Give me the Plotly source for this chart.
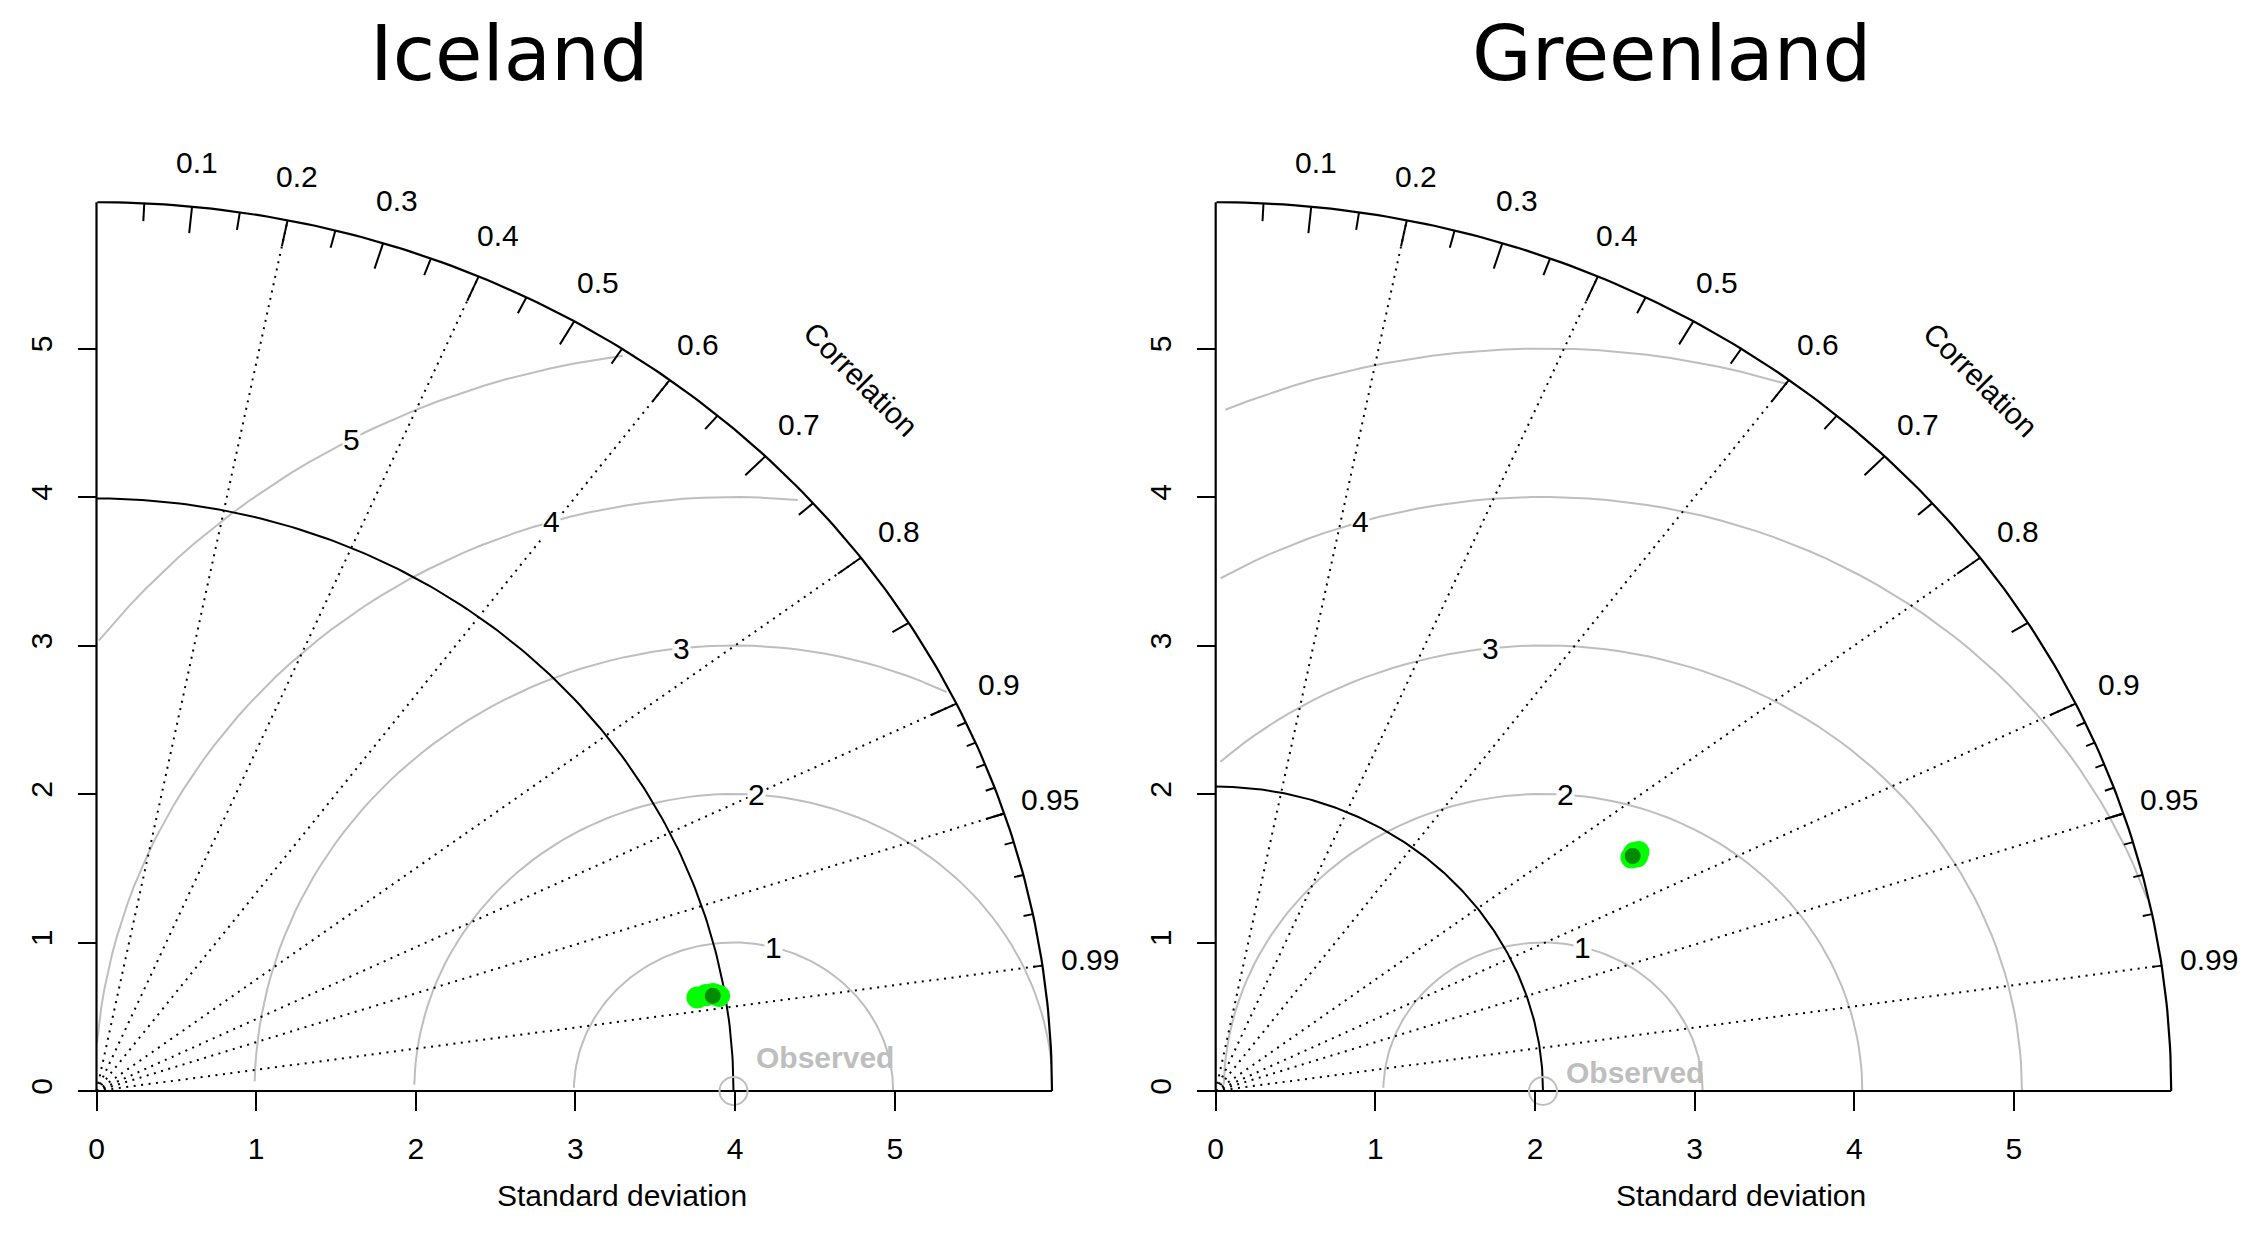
import numpy as np
import plotly.graph_objects as go

# ---------------- data ----------------
panel_titles = ["Iceland", "Greenland"]
ref_sd = [3.99, 2.05]                      # observed standard deviation
max_sd = 5.985                             # radius of the outer arc
sd_ticks = [0, 1, 2, 3, 4, 5]
rms_levels = [1, 2, 3, 4, 5]               # centred RMS difference arcs
corr_labels = [0.1, 0.2, 0.3, 0.4, 0.5, 0.6, 0.7, 0.8, 0.9, 0.95, 0.99]
corr_lines = [0.2, 0.4, 0.6, 0.8, 0.9, 0.95, 0.99]
corr_big = [0.1, 0.2, 0.3, 0.4, 0.5, 0.6, 0.7, 0.8, 0.9]
corr_med = [0.05, 0.15, 0.25, 0.35, 0.45, 0.55, 0.65, 0.75, 0.85, 0.95]
corr_small = [0.91, 0.92, 0.93, 0.94, 0.95, 0.96, 0.97, 0.98, 0.99]

# ensemble members (light green) and ensemble mean (dark green)
iceland_members_sd = [3.816, 3.872, 3.917, 3.952]
iceland_members_corr = [0.9863, 0.9860, 0.9860, 0.9868]
iceland_mean_sd = [3.913]
iceland_mean_corr = [0.9865]
greenland_members_sd = [3.042, 3.099, 3.075, 3.072]
greenland_members_corr = [0.8561, 0.8546, 0.8581, 0.8530]
greenland_mean_sd = [3.054]
greenland_mean_corr = [0.8553]

members_sd = [iceland_members_sd, greenland_members_sd]
members_corr = [iceland_members_corr, greenland_members_corr]
mean_sd = [iceland_mean_sd, greenland_mean_sd]
mean_corr = [iceland_mean_corr, greenland_mean_corr]

# ---------------- layout constants ----------------
W, H = 2256, 1233
OFF = 8  # page body margin added by the browser
X_UNIT, Y_UNIT = 159.65, 148.5
ORIGINS = [(96.5 - OFF, 1091.0 - OFF), (1215.7 - OFF, 1091.0 - OFF)]
DOMAINS = [(0.0, 0.5), (0.5, 1.0)]
TITLE_X = [509.5 - OFF, 1671.0 - OFF]
XLABEL_Y = 1195 - OFF
FONT = "Liberation Sans, Arial, Helvetica, sans-serif"
SMALL = 30
BLACK = "#000000"
GRAY = "#BEBEBE"

fig = go.Figure()
annotations = []


def polar_xy(sd, corr):
    th = np.arccos(np.asarray(corr, dtype=float))
    sd = np.asarray(sd, dtype=float)
    return sd * np.cos(th), sd * np.sin(th)


def seg_list(segs):
    xs, ys = [], []
    for sx, sy in segs:
        xs += list(sx) + [None]
        ys += list(sy) + [None]
    return xs, ys


for p in range(2):
    xa = "x" if p == 0 else "x2"
    ya = "y" if p == 0 else "y2"
    sdr = ref_sd[p]
    m = max_sd

    # --- centred RMS arcs (plotrix algorithm) ---
    segs = []
    th = np.arange(0, np.pi, 0.03)
    labelpos = np.linspace(45, 70, len(rms_levels)).astype(int)
    for gi, g in enumerate(rms_levels):
        xc = np.cos(th) * g + sdr
        yc = np.sin(th) * g
        neg = np.where(xc < 0)[0]
        end = neg.min() if len(neg) else len(xc)
        over = np.where(xc * xc + yc * yc > m * m)[0]
        start = over.max() + 1 if len(over) else 0
        if start < end:
            segs.append((xc[start:end], yc[start:end]))
        li = labelpos[gi] - 1
        if xc[li] > 0:
            annotations.append(dict(x=xc[li], y=yc[li], xref=xa, yref=ya, text=str(g),
                                    showarrow=False, bgcolor="white", borderpad=0,
                                    xanchor="center", yanchor="middle",
                                    font=dict(family=FONT, size=SMALL, color=BLACK)))
    gx, gy = seg_list(segs)
    fig.add_trace(go.Scatter(x=gx, y=gy, xaxis=xa, yaxis=ya, mode="lines",
                             line=dict(color=GRAY, width=2), hoverinfo="skip", showlegend=False))

    # --- dotted correlation lines ---
    segs = []
    for c in corr_lines:
        segs.append(([0, m * c], [0, m * np.sqrt(1 - c * c)]))
    dx, dy = seg_list(segs)
    fig.add_trace(go.Scatter(x=dx, y=dy, xaxis=xa, yaxis=ya, mode="lines",
                             line=dict(color=BLACK, width=2, dash="2px,5.5px"),
                             hoverinfo="skip", showlegend=False))

    # --- frame: axes lines, outer arc, reference arc ---
    ta = np.arange(0, np.pi / 2, 0.01)
    segs = [([0, m], [0, 0]), ([0, 0], [0, m]),
            (np.cos(ta) * m, np.sin(ta) * m)]
    fx, fy = seg_list(segs)
    fig.add_trace(go.Scatter(x=fx, y=fy, xaxis=xa, yaxis=ya, mode="lines",
                             line=dict(color=BLACK, width=2.2), hoverinfo="skip", showlegend=False))
    fig.add_trace(go.Scatter(x=np.cos(ta) * sdr, y=np.sin(ta) * sdr, xaxis=xa, yaxis=ya,
                             mode="lines", line=dict(color=BLACK, width=2),
                             hoverinfo="skip", showlegend=False))

    # --- correlation ticks ---
    segs = []
    for vals, frac in ((corr_big, 0.97), (corr_med, 0.98), (corr_small, 0.99)):
        for c in vals:
            a = np.arccos(c)
            segs.append(([np.cos(a) * m, np.cos(a) * frac * m],
                         [np.sin(a) * m, np.sin(a) * frac * m]))
    kx, ky = seg_list(segs)
    fig.add_trace(go.Scatter(x=kx, y=ky, xaxis=xa, yaxis=ya, mode="lines",
                             line=dict(color=BLACK, width=2), hoverinfo="skip", showlegend=False))

    # --- correlation labels ---
    for c in corr_labels:
        a = np.arccos(c)
        annotations.append(dict(x=np.cos(a) * 1.05 * m, y=np.sin(a) * 1.05 * m,
                                xref=xa, yref=ya, text=f"{c:g}", showarrow=False,
                                xanchor="center", yanchor="middle",
                                font=dict(family=FONT, size=SMALL, color=BLACK)))
    annotations.append(dict(x=0.8 * m, y=0.8 * m, xref=xa, yref=ya, text="Correlation",
                            textangle=45, showarrow=False, xanchor="center", yanchor="middle",
                            font=dict(family=FONT, size=SMALL, color=BLACK)))

    # --- observed point and label ---
    fig.add_trace(go.Scatter(x=[sdr], y=[0], xaxis=xa, yaxis=ya, mode="markers",
                             marker=dict(symbol="circle-open", size=28, color=GRAY,
                                         line=dict(width=2, color=GRAY)),
                             cliponaxis=False, hoverinfo="skip", showlegend=False))
    annotations.append(dict(x=sdr + 0.13, y=0.05 * sdr + 0.024, xref=xa, yref=ya,
                            text="<b>Observed</b>", xanchor="left", yanchor="middle",
                            showarrow=False,
                            font=dict(family=FONT, size=SMALL, color=GRAY)))

    # --- model points ---
    mx, my = polar_xy(members_sd[p], members_corr[p])
    fig.add_trace(go.Scatter(x=mx, y=my, xaxis=xa, yaxis=ya, mode="markers",
                             marker=dict(size=22, color="#00FF00", line=dict(width=0)),
                             cliponaxis=False, showlegend=False))
    ex, ey = polar_xy(mean_sd[p], mean_corr[p])
    fig.add_trace(go.Scatter(x=ex, y=ey, xaxis=xa, yaxis=ya, mode="markers",
                             marker=dict(size=16, color="#008B00", line=dict(width=0)),
                             cliponaxis=False, showlegend=False))

    # --- axis title & panel title ---
    annotations.append(dict(x=0.55 * m, y=(H - XLABEL_Y) / H, xref=xa, yref="paper",
                            text="Standard deviation", showarrow=False,
                            xanchor="center", yanchor="middle",
                            font=dict(family=FONT, size=SMALL, color=BLACK)))
    annotations.append(dict(x=TITLE_X[p] / W, y=1, xref="paper", yref="paper",
                            text=panel_titles[p], showarrow=False, borderpad=0,
                            xanchor="center", yanchor="top",
                            font=dict(family="DejaVu Sans", size=77, color=BLACK)))

# ---------------- axes ----------------
layout_axes = {}
for p in range(2):
    ox, oy = ORIGINS[p]
    d0, d1 = DOMAINS[p]
    xr = [(d0 * W - ox) / X_UNIT, (d1 * W - ox) / X_UNIT]
    yr = [-(H - oy) / Y_UNIT, oy / Y_UNIT]
    common = dict(showgrid=False, zeroline=False, showline=False, ticks="outside",
                  ticklen=19, tickwidth=2, tickcolor=BLACK, tickvals=sd_ticks,
                  ticktext=[str(t) for t in sd_ticks],
                  tickfont=dict(family=FONT, size=SMALL, color=BLACK),
                  fixedrange=True, anchor="free")
    xname = "xaxis" if p == 0 else "xaxis2"
    yname = "yaxis" if p == 0 else "yaxis2"
    layout_axes[xname] = dict(common, domain=[d0, d1], range=xr,
                              position=(H - oy) / H, ticklabelstandoff=12)
    layout_axes[yname] = dict(common, domain=[0, 1], range=yr,
                              position=ox / W, tickangle=-90, ticklabelstandoff=14)

fig.update_layout(width=W, height=H, margin=dict(l=0, r=0, t=0, b=0),
                  paper_bgcolor="white", plot_bgcolor="white",
                  annotations=annotations, showlegend=False, **layout_axes)

fig.write_html("out.html")
